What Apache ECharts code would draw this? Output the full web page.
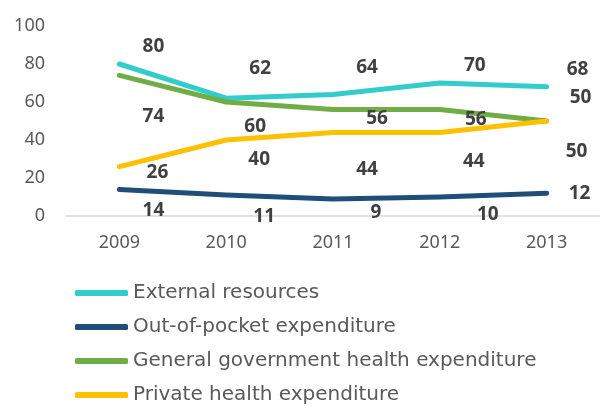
<!DOCTYPE html>
<html><head><meta charset="utf-8">
<script src="https://cdn.jsdelivr.net/npm/echarts@6/dist/echarts.min.js"></script>
<style>html,body{margin:0;padding:0;background:#fff}#c{width:600px;height:406px}</style>
</head><body><div id="c"></div>
<script>
const years = ['2009', '2010', '2011', '2012', '2013'];
const externalResources = [80, 62, 64, 70, 68];
const outOfPocket = [14, 11, 9, 10, 12];
const generalGov = [74, 60, 56, 56, 50];
const privateHealth = [26, 40, 44, 44, 50];
const seriesNames = ['External resources', 'Out-of-pocket expenditure', 'General government health expenditure', 'Private health expenditure'];
const colors = ['#33CCCC', '#1F4E79', '#70AD47', '#FFC000'];
// label offsets (style only)
const labelOffsets = [
  [[34,-17],[34,-30],[34,-27],[35,-17],[31,-17]],
  [[34,21],[38,21],[43,14],[48,18],[33,0]],
  [[34,41],[29,25],[44,9],[36,10],[34,-23]],
  [[38,6],[33,20],[34,37],[34,29],[30,31]]
];
const allData = [externalResources, outOfPocket, generalGov, privateHealth];
const chart = echarts.init(document.getElementById('c'));
chart.setOption({
  animation: false,
  grid: {left: 66, right: -1, top: 26, bottom: 190, containLabel: false},
  xAxis: {
    type: 'category', data: years, boundaryGap: true,
    axisLine: {lineStyle: {color: '#d9d9d9', width: 1.5}},
    axisTick: {show: false},
    axisLabel: {color: '#595959', fontSize: 18, margin: 18, fontFamily: 'Noto Sans'}
  },
  yAxis: {
    type: 'value', min: 0, max: 100, interval: 20,
    splitLine: {show: false}, axisLine: {show: false}, axisTick: {show: false},
    axisLabel: {color: '#595959', fontSize: 18, margin: 21, fontFamily: 'Noto Sans'}
  },
  legend: {
    orient: 'vertical', left: 75, top: 283, padding: 0, itemWidth: 53, itemHeight: 6, itemGap: 14,
    icon: 'roundRect',
    textStyle: {color: '#595959', fontSize: 20, fontFamily: 'DejaVu Sans', fontWeight: 'normal', lineHeight: 20},
    data: seriesNames
  },
  series: allData.map((d, i) => ({
    name: seriesNames[i], type: 'line',
    data: d.map((v, j) => ({value: v, label: {offset: labelOffsets[i][j]}})),
    symbol: 'circle', symbolSize: 1, showSymbol: true,
    lineStyle: {color: colors[i], width: 5, cap: 'round', join: 'round'},
    itemStyle: {color: colors[i]},
    label: {show: true, position: 'inside', color: '#404040', fontSize: 19, fontWeight: 'bold', fontFamily: 'Open Sans'}
  }))
});
</script></body></html>
